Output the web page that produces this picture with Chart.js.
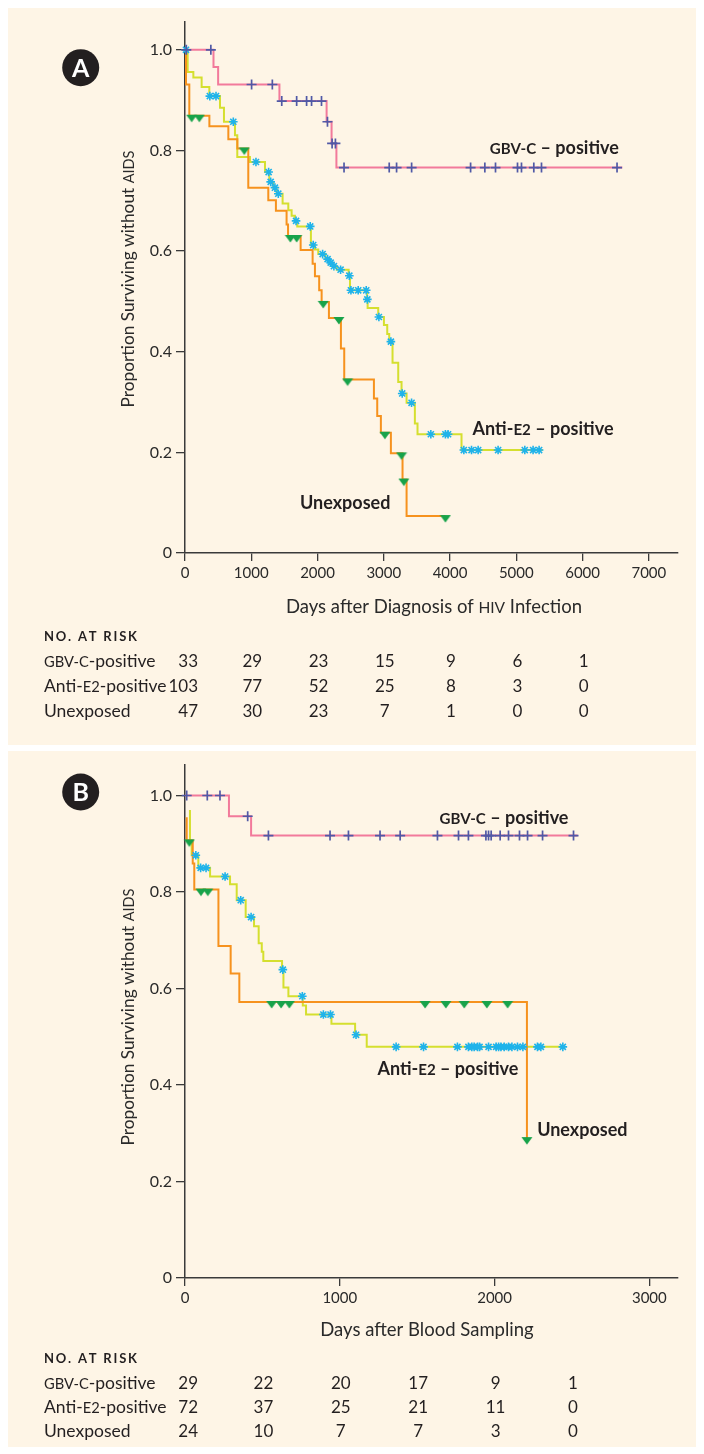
<!DOCTYPE html>
<html><head><meta charset="utf-8">
<script src="https://cdn.jsdelivr.net/npm/chart.js@4.4.1/dist/chart.umd.min.js"></script>
<style>
html,body{margin:0;padding:0;background:#fff;}
body{width:704px;height:1454px;position:relative;overflow:hidden;}
.panel{position:absolute;left:8px;width:688px;background:#fef5e6;}
#pa{top:8px;height:737px;}
#pb{top:751px;height:696px;}
canvas{display:block;}
</style></head><body>
<div class="panel" id="pa"><canvas id="ca" width="688" height="737"></canvas></div>
<div class="panel" id="pb"><canvas id="cb" width="688" height="696"></canvas></div>
<script>
// ---------------- DATA ----------------
const yTicks = [0, 0.2, 0.4, 0.6, 0.8, 1.0];
const yTickLabels = ['0', '0.2', '0.4', '0.6', '0.8', '1.0'];

// Panel A : days after diagnosis of HIV infection
const xTicksA = [0, 1000, 2000, 3000, 4000, 5000, 6000, 7000];
const gbvA_t = [0, 430, 500, 1425, 2137, 2212, 2285];
const gbvA_s = [1, 0.966, 0.931, 0.898, 0.857, 0.814, 0.766];
const gbvA_end = 6600;
const gbvA_cens = [20, 390, 1005, 1318, 1460, 1685, 1835, 1910, 2060, 2150, 2220, 2270, 2400, 3082, 3193, 3420, 4310, 4525, 4686, 5018, 5078, 5264, 5380, 6520];

const antiA_t = [0, 40, 126, 251, 367, 528, 588, 754, 789, 980, 1207, 1272, 1332, 1383, 1473, 1559, 1609, 1659, 1694, 1900, 1961, 2011, 2120, 2175, 2225, 2290, 2470, 2490, 2748, 2756, 2916, 3002, 3052, 3082, 3132, 3218, 3268, 3344, 3469, 3509, 4173];
const antiA_s = [1, 0.956, 0.945, 0.926, 0.908, 0.885, 0.857, 0.830, 0.787, 0.777, 0.757, 0.7375, 0.726, 0.714, 0.6945, 0.681, 0.670, 0.660, 0.649, 0.612, 0.603, 0.594, 0.584, 0.577, 0.570, 0.563, 0.551, 0.522, 0.504, 0.487, 0.469, 0.453, 0.435, 0.420, 0.378, 0.340, 0.317, 0.2985, 0.2575, 0.236, 0.2046];
const antiA_end = 5400;
const antiA_cens = [15, 375, 468, 729, 1071, 1262, 1293, 1357, 1408, 1676, 1890, 1935, 2077, 2152, 2198, 2247, 2348, 2480, 2504, 2614, 2735, 2752, 2926, 3107, 3278, 3419, 3710, 3930, 3970, 4208, 4324, 4424, 4725, 5128, 5253, 5344];

const unexA_t = [0, 15, 65, 368, 654, 790, 955, 1257, 1372, 1533, 1555, 1745, 1926, 1961, 2025, 2062, 2172, 2353, 2403, 2851, 2901, 2956, 3107, 3283, 3344];
const unexA_s = [1, 0.931, 0.869, 0.848, 0.822, 0.804, 0.726, 0.701, 0.680, 0.653, 0.630, 0.602, 0.575, 0.550, 0.522, 0.499, 0.467, 0.4065, 0.345, 0.307, 0.272, 0.239, 0.198, 0.146, 0.0735];
const unexA_end = 3930;
const unexA_cens = [100, 216, 895, 1590, 1685, 2086, 2323, 2454, 3017, 3268, 3303, 3930];

const riskTimesA = [0, 1000, 2000, 3000, 4000, 5000, 6000];
const riskGbvA = [33, 29, 23, 15, 9, 6, 1];
const riskAntiA = [103, 77, 52, 25, 8, 3, 0];
const riskUnexA = [47, 30, 23, 7, 1, 0, 0];

// Panel B : days after blood sampling
const xTicksB = [0, 1000, 2000, 3000];
const gbvB_t = [0, 284, 427];
const gbvB_s = [1, 0.957, 0.917];
const gbvB_end = 2536;
const gbvB_cens = [11, 144, 226, 405, 539, 937, 1056, 1260, 1390, 1631, 1767, 1831, 1944, 1961, 1978, 2036, 2090, 2161, 2213, 2310, 2510];

const antiB_t = [32, 32, 43, 86, 162, 291, 334, 392, 446, 476, 496, 506, 627, 636, 668, 761, 782, 946, 1099, 1174];
const antiB_s = [0.97, 0.905, 0.876, 0.850, 0.832, 0.816, 0.783, 0.748, 0.729, 0.694, 0.676, 0.657, 0.639, 0.602, 0.584, 0.565, 0.546, 0.527, 0.504, 0.479];
const antiB_end = 2450;
const antiB_cens = [70, 101, 136, 259, 360, 427, 632, 758, 894, 940, 1105, 1364, 1541, 1760, 1831, 1853, 1868, 1890, 1903, 1961, 2010, 2026, 2041, 2062, 2090, 2112, 2148, 2183, 2277, 2299, 2441];

const unexB_t = [11, 11, 50, 60, 216, 295, 351, 2209];
const unexB_s = [0.955, 0.907, 0.859, 0.805, 0.688, 0.631, 0.572, 0.29];
const unexB_end = 2209;
const unexB_cens = [28, 103, 147, 560, 621, 674, 1551, 1685, 1804, 1950, 2084, 2209];

const riskTimesB = [0, 500, 1000, 1500, 2000, 2500];
const riskGbvB = [29, 22, 20, 17, 9, 1];
const riskAntiB = [72, 37, 25, 21, 11, 0];
const riskUnexB = [24, 10, 7, 7, 3, 0];

// ---------------- STYLE ----------------
const FONT = 'Lato, "Noto Sans", sans-serif';
const AX = '#3a3a3a';
const TXT = '#231f20';
const C_PINK = '#f27a9b', C_YEL = '#d5df2f', C_ORA = '#f6921e';
const C_NAVY = '#5059a6', C_CYAN = '#1fb3ea', C_GREEN = '#17a34a';
const SC = 0.84; // small-caps ratio

function triCanvas(color) {
  const c = document.createElement('canvas'); c.width = 12; c.height = 18;
  const g = c.getContext('2d'); g.fillStyle = color;
  g.beginPath(); g.moveTo(0.5, 8); g.lineTo(11.5, 8); g.lineTo(6, 15.5); g.closePath(); g.fill();
  return c;
}
const TRI = triCanvas(C_GREEN);

function stepLine(t, s, end) {
  const pts = t.map((d, i) => ({x: d, y: s[i]}));
  if (end > t[t.length - 1]) pts.push({x: end, y: s[s.length - 1]});
  return pts;
}
function marks(t, s, cens) {
  return cens.map(c => { let v = s[0]; for (let i = 0; i < t.length; i++) if (t[i] <= c) v = s[i]; return {x: c, y: v}; });
}

function fontStr(weight, size) { return `${weight} ${size}px ${FONT}`; }
function runsWidth(ctx, parts, weight, size) {
  let w = 0;
  parts.forEach(p => { ctx.font = fontStr(weight, p[1] ? size * SC : size); w += ctx.measureText(p[0]).width; });
  return w;
}
function drawRuns(ctx, parts, weight, size, x, y, align) {
  const w = runsWidth(ctx, parts, weight, size);
  let cx = align === 'center' ? x - w / 2 : (align === 'right' ? x - w : x);
  ctx.textAlign = 'left'; ctx.textBaseline = 'alphabetic';
  parts.forEach(p => { ctx.font = fontStr(weight, p[1] ? size * SC : size); ctx.fillText(p[0], cx, y); cx += ctx.measureText(p[0]).width; });
}
function drawSpaced(ctx, text, font, x, y, sp) {
  ctx.font = font; ctx.textAlign = 'left'; ctx.textBaseline = 'alphabetic';
  let cx = x;
  for (const ch of text) { ctx.fillText(ch, cx, y); cx += ctx.measureText(ch).width + sp; }
}

const decor = {
  id: 'decor',
  afterDraw(chart, args, o) {
    const ctx = chart.ctx, xs = chart.scales.x, ys = chart.scales.y;
    ctx.save();
    // panel letter
    ctx.beginPath(); ctx.arc(o.letterX, o.letterY, 18.5, 0, Math.PI * 2); ctx.fillStyle = TXT; ctx.fill();
    ctx.fillStyle = '#fff'; ctx.font = fontStr('bold', 25); ctx.textAlign = 'center'; ctx.textBaseline = 'middle';
    ctx.fillText(o.letter, o.letterX, o.letterY + 1);
    ctx.fillStyle = TXT;
    // curve labels
    o.labels.forEach(l => {
      drawRuns(ctx, l.parts, 'bold', 18, xs.getPixelForValue(l.x), ys.getPixelForValue(l.y) + 6.5, 'left');
    });
    // axis titles
    ctx.fillStyle = '#2a2a2a';
    drawRuns(ctx, o.xTitle, 'normal', 18.5, o.xTitleX, o.xTitleY, 'center');
    ctx.save();
    ctx.translate(o.yTitleX, o.yTitleY); ctx.rotate(-Math.PI / 2);
    drawRuns(ctx, o.yTitle, 'normal', 17.3, 0, 0, 'center');
    ctx.restore();
    // risk table
    const r = o.risk;
    ctx.fillStyle = TXT;
    drawSpaced(ctx, 'NO. AT RISK', fontStr('bold', 13), r.x, r.headerY, 1.8);
    r.rows.forEach((row, i) => {
      const y = r.rowY[i];
      drawRuns(ctx, row.label, 'normal', 17.5, r.x, y, 'left');
      row.values.forEach((v, j) => {
        ctx.font = fontStr('normal', 17);
        const px = xs.getPixelForValue(r.times[j]);
        if (j === 0) { ctx.textAlign = 'right'; ctx.fillText(String(v), px + 13, y); }
        else { ctx.textAlign = 'center'; ctx.fillText(String(v), px + 1, y); }
      });
    });
    ctx.restore();
  }
};

function makeChart(id, P) {
  const datasets = [];
  P.series.forEach(s => {
    datasets.push({data: stepLine(s.t, s.s, s.end), borderColor: s.color, borderWidth: 2, stepped: true,
      pointRadius: 0, fill: false, order: s.order, clip: false});
  });
  P.series.forEach(s => {
    datasets.push({data: marks(s.t, s.s, s.cens), showLine: false, pointStyle: s.mark, pointRadius: s.r,
      pointBorderColor: s.mcolor, pointBackgroundColor: s.mcolor, pointBorderWidth: s.mw, order: 0, clip: false});
  });
  return new Chart(document.getElementById(id), {
    type: 'line',
    data: {datasets},
    options: {
      responsive: false, animation: false, events: [],
      layout: {padding: {left: 0, top: P.padTop, right: P.padRight, bottom: P.padBottom}},
      scales: {
        x: {type: 'linear', min: 0, max: P.xMax,
          afterFit: s => { s.height = 40; },
          afterBuildTicks: s => { s.ticks = P.xTicks.map(v => ({value: v})); },
          ticks: {autoSkip: false, maxRotation: 0, minRotation: 0, padding: 3, color: '#2a2a2a',
            font: {family: FONT, size: 15}, callback: v => String(v)},
          grid: {drawOnChartArea: false, tickLength: 8, color: AX, lineWidth: 1.3},
          border: {color: AX, width: 1.5}},
        y: {type: 'linear', min: 0, max: P.yMax,
          afterFit: s => { s.width = 177; },
          afterBuildTicks: s => { s.ticks = yTicks.map(v => ({value: v})); },
          ticks: {autoSkip: false, padding: 4, color: '#2a2a2a', font: {family: FONT, size: 16},
            callback: (v, i) => yTickLabels[i]},
          grid: {drawOnChartArea: false, tickLength: 9, color: AX, lineWidth: 1.3},
          border: {color: AX, width: 1.5}}
      },
      plugins: {legend: {display: false}, tooltip: {enabled: false}, decor: P.decor}
    },
    plugins: [decor]
  });
}

const L_GBV = [['GBV-C', 1], [' – positive', 0]];
const L_ANTI = [['Anti-', 0], ['E2', 1], [' – positive', 0]];
const L_UNEX = [['Unexposed', 0]];
const R_GBV = [['GBV-C', 1], ['-positive', 0]];
const R_ANTI = [['Anti-', 0], ['E2', 1], ['-positive', 0]];
const R_UNEX = [['Unexposed', 0]];

makeChart('ca', {
  xMax: 7440, yMax: 1.056, xTicks: xTicksA, padTop: 13, padRight: 18, padBottom: 152,
  series: [
    {t: gbvA_t, s: gbvA_s, end: gbvA_end, cens: gbvA_cens, color: C_PINK, order: 3, mark: 'cross', r: 5, mcolor: C_NAVY, mw: 1.7},
    {t: antiA_t, s: antiA_s, end: antiA_end, cens: antiA_cens, color: C_YEL, order: 4, mark: 'star', r: 4.3, mcolor: C_CYAN, mw: 1.6},
    {t: unexA_t, s: unexA_s, end: unexA_end, cens: unexA_cens, color: C_ORA, order: 2, mark: TRI, r: 5, mcolor: C_GREEN, mw: 1}
  ],
  decor: {
    letter: 'A', letterX: 72.7, letterY: 59.7,
    labels: [{parts: L_GBV, x: 4600, y: 0.806}, {parts: L_ANTI, x: 4340, y: 0.248}, {parts: L_UNEX, x: 1735, y: 0.101}],
    xTitle: [['Days after Diagnosis of ', 0], ['HIV', 1], [' Infection', 0]], xTitleX: 426, xTitleY: 605,
    yTitle: [['Proportion Surviving without ', 0], ['AIDS', 1]], yTitleX: 126, yTitleY: 271,
    risk: {x: 36, headerY: 633, rowY: [659, 684, 709], times: riskTimesA,
      rows: [{label: R_GBV, values: riskGbvA}, {label: R_ANTI, values: riskAntiA}, {label: R_UNEX, values: riskUnexA}]}
  }
});

makeChart('cb', {
  xMax: 3185, yMax: 1.064, xTicks: xTicksB, padTop: 13, padRight: 18, padBottom: 129,
  series: [
    {t: gbvB_t, s: gbvB_s, end: gbvB_end, cens: gbvB_cens, color: C_PINK, order: 3, mark: 'cross', r: 5, mcolor: C_NAVY, mw: 1.7},
    {t: antiB_t, s: antiB_s, end: antiB_end, cens: antiB_cens, color: C_YEL, order: 4, mark: 'star', r: 4.3, mcolor: C_CYAN, mw: 1.6},
    {t: unexB_t, s: unexB_s, end: unexB_end, cens: unexB_cens, color: C_ORA, order: 2, mark: TRI, r: 5, mcolor: C_GREEN, mw: 1}
  ],
  decor: {
    letter: 'B', letterX: 72.7, letterY: 41,
    labels: [{parts: L_GBV, x: 1644, y: 0.954}, {parts: L_ANTI, x: 1243, y: 0.434}, {parts: L_UNEX, x: 2275, y: 0.3085}],
    xTitle: [['Days after Blood Sampling', 0]], xTitleX: 419, xTitleY: 585,
    yTitle: [['Proportion Surviving without ', 0], ['AIDS', 1]], yTitleX: 126, yTitleY: 266,
    risk: {x: 36, headerY: 612, rowY: [637.5, 661.5, 685.5], times: riskTimesB,
      rows: [{label: R_GBV, values: riskGbvB}, {label: R_ANTI, values: riskAntiB}, {label: R_UNEX, values: riskUnexB}]}
  }
});
</script>
</body></html>
